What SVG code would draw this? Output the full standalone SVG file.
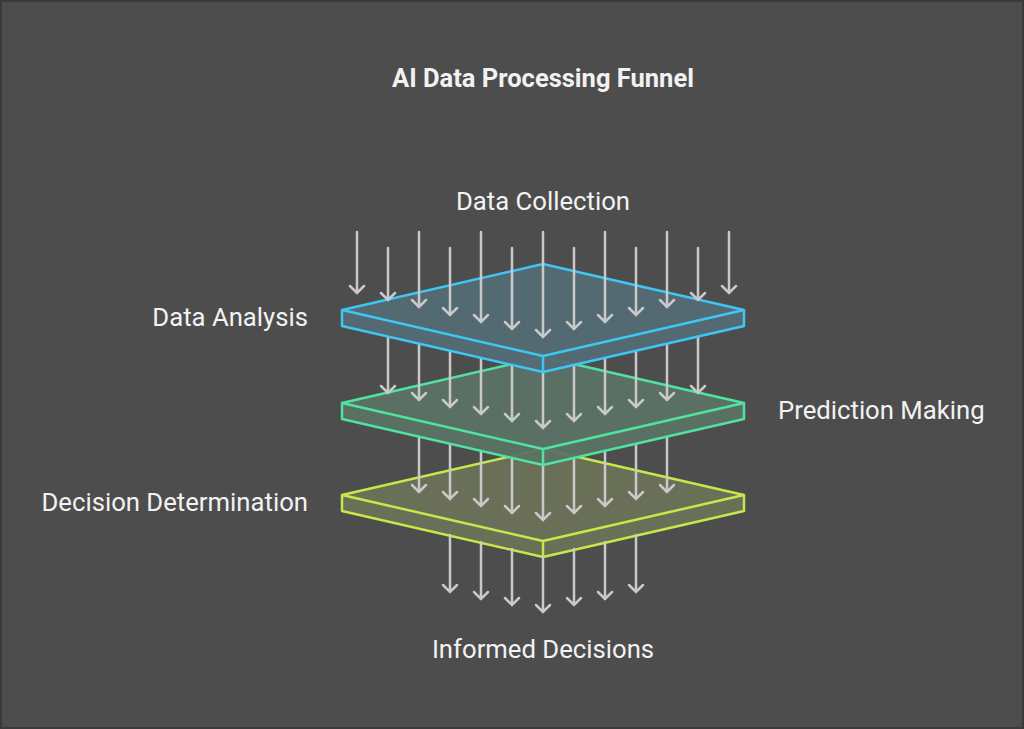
<svg xmlns="http://www.w3.org/2000/svg" width="1024" height="729" viewBox="0 0 1024 729">
<style>
.t{font-family:Roboto,"Liberation Sans",sans-serif;fill:#f2f2f2;font-size:25.7px}
.a{stroke:#c9c9c9;stroke-width:2.5;fill:none;stroke-linecap:round}
.p{stroke-width:2.5;stroke-linejoin:round}
</style>
<rect width="1024" height="729" fill="#4d4d4d"/>
<rect x="1" y="1" width="1022" height="727" fill="none" stroke="#3a3a3a" stroke-width="2"/>
<text x="543" y="87" text-anchor="middle" class="t" style="font-weight:bold;font-size:25.5px">AI Data Processing Funnel</text>
<g id="n-collection"><text x="543" y="210" text-anchor="middle" class="t">Data Collection</text></g>
<g id="n-decisions"><text x="543" y="658" text-anchor="middle" class="t">Informed Decisions</text></g>
<g id="plate3">
<path class="p" d="M342 495 L543 449 L744 495 L744 511 L543 557 L342 511 Z" fill="#6a6f58" stroke="#c5e84a"/>
<path class="p" d="M342 495 L543 541 L744 495 M543 541 L543 557" fill="none" stroke="#c5e84a"/>
<text x="308" y="511" text-anchor="end" class="t">Decision Determination</text>
</g>
<g id="connectors-low">
<g class="a">
<path d="M450 535V592M443 585L450 592L457 585"/>
<path d="M481 542V599M474 592L481 599L488 592"/>
<path d="M512 549V605M505 598L512 605L519 598"/>
<path d="M543 557V612M536 605L543 612L550 605"/>
<path d="M574 549V605M567 598L574 605L581 598"/>
<path d="M605 542V599M598 592L605 599L612 592"/>
<path d="M636 535V592M629 585L636 592L643 585"/>
</g>
</g>
<g id="connectors-3">
<g class="a">
<path d="M419 436V492M412 485L419 492L426 485"/>
<path d="M450 443V499M443 492L450 499L457 492"/>
<path d="M481 450V506M474 499L481 506L488 499"/>
<path d="M512 457V513M505 506L512 513L519 506"/>
<path d="M543 464V520M536 513L543 520L550 513"/>
<path d="M574 457V513M567 506L574 513L581 506"/>
<path d="M605 450V506M598 499L605 506L612 499"/>
<path d="M636 443V499M629 492L636 499L643 492"/>
<path d="M667 436V492M660 485L667 492L674 485"/>
</g>
</g>
<g id="plate2">
<path class="p" d="M342 403 L543 357 L744 403 L744 419 L543 465 L342 419 Z" fill="#5c7265" fill-opacity="0.95" stroke="#50e3a0"/>
<path class="p" d="M342 403 L543 449 L744 403 M543 449 L543 465" fill="none" stroke="#50e3a0"/>
<text x="778" y="419" class="t">Prediction Making</text>
</g>
<g id="connectors-2">
<g class="a">
<path d="M388 337V393M381 386L388 393L395 386"/>
<path d="M419 344V400M412 393L419 400L426 393"/>
<path d="M450 351V407M443 400L450 407L457 400"/>
<path d="M481 358V414M474 407L481 414L488 407"/>
<path d="M512 365V421M505 414L512 421L519 414"/>
<path d="M543 372V428M536 421L543 428L550 421"/>
<path d="M574 365V421M567 414L574 421L581 414"/>
<path d="M605 358V414M598 407L605 414L612 407"/>
<path d="M636 351V407M629 400L636 407L643 400"/>
<path d="M667 344V400M660 393L667 400L674 393"/>
<path d="M698 337V393M691 386L698 393L705 386"/>
</g>
</g>
<g id="plate1">
<path class="p" d="M342 310 L543 264 L744 310 L744 326 L543 372 L342 326 Z" fill="#546b74" fill-opacity="0.95" stroke="#3fc6f4"/>
<path class="p" d="M342 310 L543 356 L744 310 M543 356 L543 372" fill="none" stroke="#3fc6f4"/>
<text x="308" y="326" text-anchor="end" class="t">Data Analysis</text>
</g>
<g id="connectors-1">
<g class="a">
<path d="M357 232V293M350 286L357 293L364 286"/>
<path d="M388 248V300M381 293L388 300L395 293"/>
<path d="M419 232V307M412 300L419 307L426 300"/>
<path d="M450 248V315M443 308L450 315L457 308"/>
<path d="M481 232V322M474 315L481 322L488 315"/>
<path d="M512 248V329M505 322L512 329L519 322"/>
<path d="M543 232V337M536 330L543 337L550 330"/>
<path d="M574 248V329M567 322L574 329L581 322"/>
<path d="M605 232V322M598 315L605 322L612 315"/>
<path d="M636 248V315M629 308L636 315L643 308"/>
<path d="M667 232V307M660 300L667 307L674 300"/>
<path d="M698 248V300M691 293L698 300L705 293"/>
<path d="M729 232V293M722 286L729 293L736 286"/>
</g>
</g>
</svg>
